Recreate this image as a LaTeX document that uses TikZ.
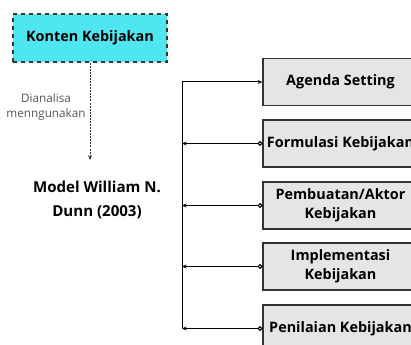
\documentclass[tikz,border=0pt]{standalone}
\usepackage{fontspec}
\setmainfont{Open Sans}
\usetikzlibrary{arrows.meta}

\definecolor{kontencyan}{RGB}{78,230,240}
\definecolor{tahapgrey}{RGB}{229,229,229}
\definecolor{garisgrey}{RGB}{51,51,51}
\definecolor{labelgrey}{RGB}{85,85,85}

\tikzset{every picture/.style={line width=0.75pt}}
\tikzset{
  tahap/.style={draw=garisgrey, fill=tahapgrey, line width=1pt, minimum width=116.25pt, minimum height=35.25pt,
    align=center, inner sep=0.75pt, font=\bfseries\fontsize{10.8}{14}\selectfont},
  balik/.style={{Circle[open,length=3.5pt,width=3.5pt]}-{Stealth[length=3.5pt,width=3pt]}, line width=0.75pt},
}

\begin{document}
\begin{tikzpicture}[x=0.75pt,y=0.75pt,yscale=-1,xscale=1]
		\useasboundingbox (0,0) rectangle (411,345);
		\clip (0,0) rectangle (411,345);
		
		%Shape: Rectangle [id:konten] 
		\node [draw=garisgrey, dashed, fill=kontencyan, line width=1pt, minimum width=115.5pt, minimum height=36pt, inner sep=0.75pt, font=\bfseries\fontsize{10.8}{13}\selectfont] (konten) at (90,38) {Konten Kebijakan};
		% Text Node
		\node [inner sep=0.75pt, align=center, font=\bfseries\fontsize{11.3}{18}\selectfont] (model) at (97,200) {Model William N.\\Dunn (2003)};
		%Straight Lines [id:dianalisa] 
		\coordinate (ujung) at (90,160);
		\draw [color=garisgrey, dashed, dash pattern=on 1.5pt off 0.8pt, -{Stealth[length=3.5pt,width=3pt]}] (konten.south) -- (ujung);
		% Text Node
		\node [inner sep=0.75pt, align=center, text=labelgrey, font=\fontsize{8.8}{11.5}\selectfont] (dianalisa) at (46,107) {Dianalisa\\menngunakan};
		
		%Shape: Rectangle [id:tahapan] 
		\node [tahap] (agenda) at (340.5,82) {Agenda Setting};
		\node [tahap] (formulasi) at (340.5,143.5) {Formulasi Kebijakan};
		\node [tahap] (pembuatan) at (340.5,205.5) {Pembuatan/Aktor\\Kebijakan};
		\node [tahap] (implementasi) at (340.5,266.5) {Implementasi\\Kebijakan};
		\node [tahap] (penilaian) at (340.5,328.5) {Penilaian Kebijakan};
		
		%Straight Lines [id:bus] 
		\coordinate (b1) at (182,82);
		\coordinate (b2) at (182,143.5);
		\coordinate (b3) at (182,205.5);
		\coordinate (b4) at (182,266.5);
		\coordinate (b5) at (182,328.5);
		\draw [color=black] (b1) -- (b5);
		\draw [-{Stealth[length=3.5pt,width=3pt]}] (b1) -- (agenda.west);
		\foreach \t [count=\i from 2] in {formulasi,pembuatan,implementasi,penilaian}
			\draw [balik] (\t.west) -- (b\i);
		
\end{tikzpicture}
\end{document}
